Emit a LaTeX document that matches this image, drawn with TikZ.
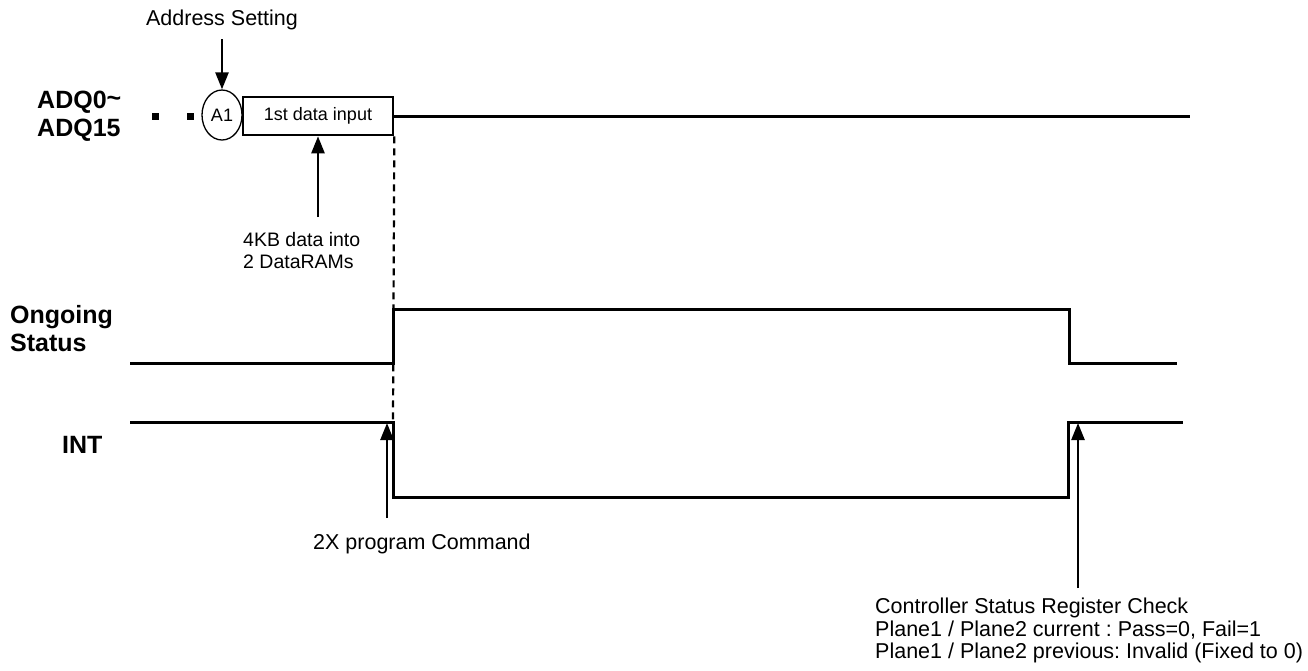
\documentclass[tikz,border=0pt]{standalone}
\usepackage{fontspec}
\setmainfont{Liberation Sans}
\frenchspacing
\usetikzlibrary{arrows.meta,shapes.geometric}
\begin{document}
\begin{tikzpicture}[x=1pt,y=-1pt,
  txt/.style={inner sep=0pt,font=\fontsize{21.5}{22.5}\selectfont,align=left},
  lbl/.style={inner sep=0pt,font=\fontsize{25}{28}\selectfont\bfseries,align=left},
  sig/.style={line width=3pt},
  arr/.style={line width=2.5pt,-{Triangle[length=17pt,width=13pt]}},
  dotsq/.style={fill=black,minimum size=7pt,inner sep=0pt},
  dashline/.style={line width=2.2pt,dash pattern=on 7pt off 5pt}]
\useasboundingbox (0,0) rectangle (1308,670);

% labels
\node[lbl,anchor=west] (adq) at (37,116) {ADQ0\raisebox{2pt}{\char`\~}\\ADQ15};
\node[lbl,anchor=west] (ong) at (10,329) {Ongoing\\Status};
\node[lbl,anchor=west] (int) at (62,445) {INT};

% ADQ row
\node[dotsq] (d1) at (155,116) {};
\node[dotsq] (d2) at (190,116) {};
\node[draw,ellipse,line width=1.3pt,minimum width=40pt,minimum height=50pt,inner sep=0pt,font=\fontsize{18}{20}\selectfont] (a1) at (222,115) {A1};
\node[draw,line width=2.6pt,minimum width=150pt,minimum height=38pt,inner sep=0pt,font=\fontsize{18}{20}\selectfont] (data) at (318,116) {1st data input};
\coordinate (adqend) at (1190,116);
\draw[sig] (data.east) -- (adqend);

\node[txt,anchor=center] (addr) at (222,20) {Address Setting};
\draw[arr,shorten <=9pt] (addr.south) -- (a1.north);

\node[txt,anchor=north west,font=\fontsize{19.5}{22.5}\selectfont] (kb) at (243,232) {4KB data into\\2 DataRAMs};
\coordinate (kbtop) at (318,217);
\draw[arr] (kbtop) -- (data.south);

% Ongoing status
\coordinate (o0) at (130,363);
\coordinate (o1) at (393,363);
\coordinate (o2) at (393,309);
\coordinate (o3) at (1069,309);
\coordinate (o4) at (1069,363);
\coordinate (o5) at (1177,363);
\draw[sig] (o0) -- (o1) -- (o2) -- (o3) -- (o4) -- (o5);

% INT
\coordinate (i0) at (130,422);
\coordinate (i1) at (393,422);
\coordinate (i2) at (393,497);
\coordinate (i3) at (1068,497);
\coordinate (i4) at (1068,422);
\coordinate (i5) at (1183,422);
\draw[sig] (i0) -- (i1) -- (i2) -- (i3) -- (i4) -- (i5);

% dashed marker
\draw[dashline] (data.south east) -- (i1);

% 2X program command
\node[txt,anchor=west] (cmd) at (313,544) {2X program Command};
\coordinate (cmdb) at (387,518);
\coordinate (cmdt) at (387,423);
\draw[arr] (cmdb) -- (cmdt);

% Controller status
\node[txt,anchor=north west] (csr) at (875,598) {Controller Status Register Check\\Plane1 / Plane2 current : Pass=0, Fail=1\\Plane1 / Plane2 previous: Invalid (Fixed to 0)};
\coordinate (csrb) at (1078,588);
\coordinate (csrt) at (1078,423);
\draw[arr] (csrb) -- (csrt);
\end{tikzpicture}
\end{document}
